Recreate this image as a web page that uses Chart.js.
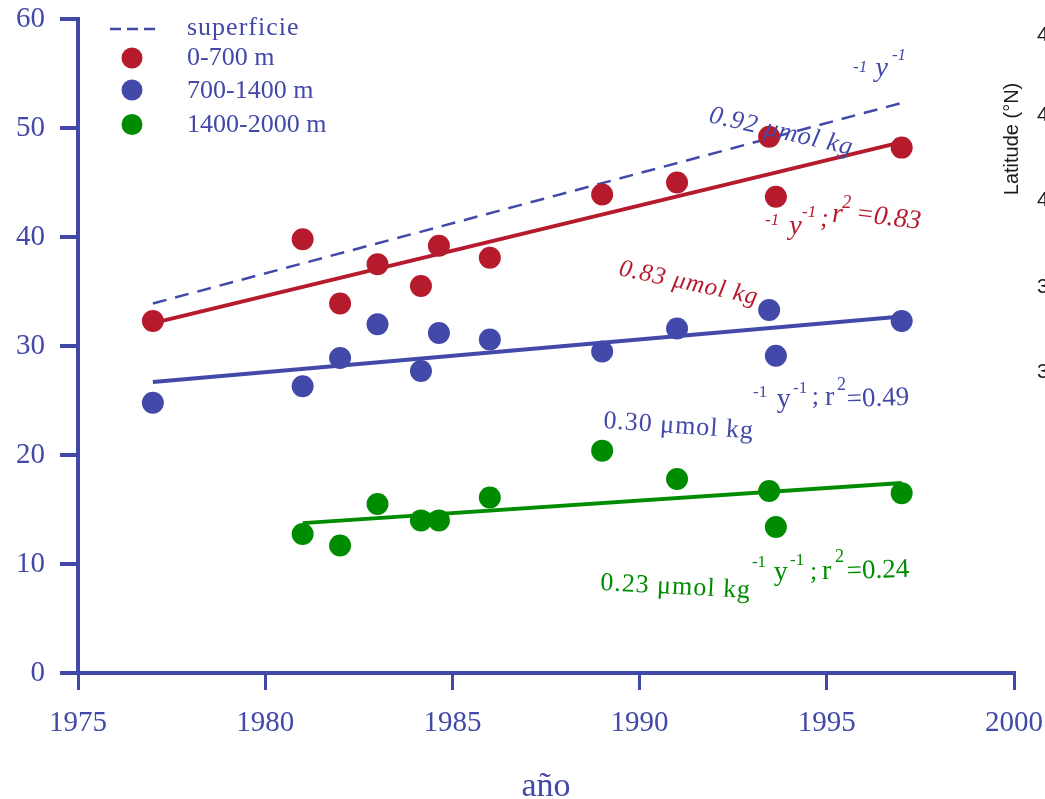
<!DOCTYPE html>
<html>
<head>
<meta charset="utf-8">
<script src="https://cdn.jsdelivr.net/npm/chart.js@4/dist/chart.umd.min.js"></script>
<style>
  html, body { margin: 0; padding: 0; background: #ffffff; }
  #wrap { width: 1045px; height: 799px; position: relative; }
</style>
</head>
<body>
<div id="wrap"><canvas id="chart" width="1045" height="799"></canvas></div>
<script>
// ---- axis ticks ----
const xTicks = [1975, 1980, 1985, 1990, 1995, 2000];
const yTicks = [0, 10, 20, 30, 40, 50, 60];

// ---- series labels ----
const surfaceLabel = 'superficie';
const layerLabels = ['0-700 m', '700-1400 m', '1400-2000 m'];

// ---- observations per depth layer ----
const years0to700 = [1977, 1981, 1982, 1983, 1984.16, 1984.64, 1986, 1989, 1991, 1993.46, 1993.64, 1997];
const values0to700 = [32.3, 39.8, 33.9, 37.5, 35.5, 39.2, 38.1, 43.9, 45.0, 49.2, 43.7, 48.2];

const years700to1400 = [1977, 1981, 1982, 1983, 1984.16, 1984.64, 1986, 1989, 1991, 1993.46, 1993.64, 1997];
const values700to1400 = [24.8, 26.3, 28.9, 32.0, 27.7, 31.2, 30.6, 29.5, 31.6, 33.3, 29.1, 32.3];

const years1400to2000 = [1981, 1982, 1983, 1984.16, 1984.64, 1986, 1989, 1991, 1993.46, 1993.64, 1997];
const values1400to2000 = [12.75, 11.7, 15.5, 14.0, 14.0, 16.1, 20.4, 17.8, 16.7, 13.4, 16.5];

// ---- linear trends: surface, 0-700, 700-1400, 1400-2000 ----
const trendSlopes = [0.92, 0.83, 0.30, 0.23];       // µmol kg-1 y-1
const trendRSquared = [null, 0.83, 0.49, 0.24];
const trendStartYears = [1977, 1977, 1977, 1981];
const trendEndYears = [1997, 1997, 1997, 1997];
const trendStartValues = [33.9, 32.1, 26.7, 13.75];

// ---- palette ----
const AXIS = '#4248a8';
const BLUE = '#4349a9';
const RED = '#b51b2d';
const GREEN = '#008c00';
const SERIF = '"Liberation Serif", "Times New Roman", serif';

const pts = (xs, ys) => xs.map((x, i) => ({ x, y: ys[i] }));
const trend = i => [
  { x: trendStartYears[i], y: trendStartValues[i] },
  { x: trendEndYears[i], y: trendStartValues[i] + trendSlopes[i] * (trendEndYears[i] - trendStartYears[i]) }
];

const scatterStyle = color => ({
  type: 'scatter',
  backgroundColor: color,
  borderColor: color,
  borderWidth: 0,
  pointRadius: 11,
  pointHoverRadius: 11,
  order: 0
});
const lineStyle = (color, width, dash) => ({
  type: 'line',
  borderColor: color,
  backgroundColor: color,
  borderWidth: width,
  borderDash: dash || [],
  pointRadius: 0,
  pointHoverRadius: 0,
  fill: false,
  tension: 0,
  order: 1
});

const slopeText = i => trendSlopes[i].toFixed(2) + ' \u03bcmol kg';
const r2Text = i => '=' + trendRSquared[i].toFixed(2);

// Unit pieces of each regression note, placed in data space
function unitPieces(color, italic, p) {
  return [
    { text: '-1', x: p[0][0], y: p[0][1], size: 17, color, italic },
    { text: 'y', x: p[1][0], y: p[1][1], size: 28, color, italic },
    { text: '-1', x: p[2][0], y: p[2][1], size: 17, color, italic }
  ];
}
function fitPieces(color, italic, p, r2, rot) {
  return [
    { text: ';', x: p[0][0], y: p[0][1], size: 26, color, italic },
    { text: 'r', x: p[1][0], y: p[1][1], size: 28, color, italic },
    { text: '2', x: p[2][0], y: p[2][1], size: 18, color, italic },
    { text: r2, x: p[3][0], y: p[3][1], size: 27, color, italic, rot }
  ];
}

const notes = [
  // surface trend
  { text: slopeText(0), x: 1991.83, y: 50.55, size: 26, color: BLUE, italic: true, rot: 13, ls: 1 },
  ...unitPieces(BLUE, true, [[1995.70, 55.14], [1996.30, 54.77], [1996.74, 56.24]]),
  // 0-700 m
  { text: slopeText(1), x: 1989.42, y: 36.51, size: 25, color: RED, italic: true, rot: 12, ls: 1 },
  ...unitPieces(RED, true, [[1993.35, 41.10], [1994.00, 40.28], [1994.34, 41.83]]),
  ...fitPieces(RED, true, [[1994.82, 41.01], [1995.14, 41.38], [1995.41, 42.66], [1995.75, 41.47]], r2Text(1), 7),
  // 700-1400 m
  { text: slopeText(2), x: 1989.02, y: 22.48, size: 26, color: BLUE, italic: false, rot: 4, ls: 1 },
  ...unitPieces(BLUE, false, [[1993.03, 25.32], [1993.66, 24.40], [1994.10, 25.69]]),
  ...fitPieces(BLUE, false, [[1994.60, 24.68], [1994.95, 24.59], [1995.27, 25.96], [1995.54, 24.40]], r2Text(2), -2),
  // 1400-2000 m
  { text: slopeText(3), x: 1988.94, y: 7.61, size: 26, color: GREEN, italic: false, rot: 3, ls: 1 },
  ...unitPieces(GREEN, false, [[1993.00, 9.72], [1993.58, 8.53], [1994.02, 9.91]]),
  ...fitPieces(GREEN, false, [[1994.55, 8.62], [1994.87, 8.62], [1995.22, 10.18], [1995.54, 8.62]], r2Text(3), -2)
];

// Regression notes drawn over the data
const trendNotes = {
  id: 'trendNotes',
  afterDatasetsDraw(chart, args, opts) {
    const { ctx } = chart;
    const sx = chart.scales.x, sy = chart.scales.y;
    opts.items.forEach(it => {
      ctx.save();
      ctx.translate(sx.getPixelForValue(it.x), sy.getPixelForValue(it.y));
      ctx.rotate((it.rot || 0) * Math.PI / 180);
      ctx.font = (it.italic ? 'italic ' : '') + it.size + 'px ' + SERIF;
      if ('letterSpacing' in ctx) ctx.letterSpacing = (it.ls || 0) + 'px';
      ctx.fillStyle = it.color;
      ctx.textAlign = 'left';
      ctx.textBaseline = 'alphabetic';
      ctx.fillText(it.text, 0, 0);
      ctx.restore();
    });
  }
};

// Key in the upper-left corner of the plot
const depthKey = {
  id: 'depthKey',
  afterDraw(chart) {
    const { ctx } = chart;
    const ds = chart.data.datasets;
    const left = chart.chartArea.left;
    ctx.save();
    ctx.font = '26px ' + SERIF;
    ctx.textAlign = 'left';
    ctx.textBaseline = 'middle';
    // dashed surface line
    ctx.strokeStyle = ds[0].borderColor;
    ctx.lineWidth = 2.5;
    ctx.setLineDash([11, 6]);
    ctx.beginPath();
    ctx.moveTo(left + 32, 29);
    ctx.lineTo(left + 78, 29);
    ctx.stroke();
    ctx.setLineDash([]);
    ctx.fillStyle = AXIS;
    if ('letterSpacing' in ctx) ctx.letterSpacing = '1px';
    ctx.fillText(ds[0].label, left + 109, 28);
    if ('letterSpacing' in ctx) ctx.letterSpacing = '0px';
    const rows = [[58, 58.5], [90, 91.5], [124.5, 125]];
    [4, 5, 6].forEach((k, i) => {
      ctx.fillStyle = ds[k].backgroundColor;
      ctx.beginPath();
      ctx.arc(left + 54, rows[i][0], 10.5, 0, Math.PI * 2);
      ctx.fill();
      ctx.fillStyle = AXIS;
      ctx.fillText(ds[k].label, left + 109, rows[i][1]);
    });
    ctx.restore();
  }
};

// Neighbouring latitude axis at the right edge
const latitudeEdge = {
  id: 'latitudeEdge',
  afterDraw(chart) {
    const { ctx } = chart;
    const w = chart.width;
    ctx.save();
    ctx.fillStyle = '#1a1a1a';
    ctx.font = '20px "Liberation Sans", Arial, sans-serif';
    ctx.textAlign = 'center';
    ctx.textBaseline = 'middle';
    ctx.translate(w - 33, 139);
    ctx.rotate(-Math.PI / 2);
    ctx.fillText('Latitude (\u00b0N)', 0, 0);
    ctx.restore();
    ctx.save();
    ctx.fillStyle = '#1a1a1a';
    ctx.font = '21px "Liberation Sans", Arial, sans-serif';
    ctx.textAlign = 'left';
    ctx.textBaseline = 'middle';
    [['4', 35], ['4', 115], ['4', 200], ['3', 287], ['3', 372]].forEach(([t, yy]) => {
      ctx.fillText(t, w - 8, yy);
    });
    ctx.restore();
  }
};

new Chart(document.getElementById('chart'), {
  data: {
    datasets: [
      { label: surfaceLabel, data: trend(0), ...lineStyle(BLUE, 2.5, [14, 9]) },
      { label: layerLabels[0] + ' trend', data: trend(1), ...lineStyle(RED, 4) },
      { label: layerLabels[1] + ' trend', data: trend(2), ...lineStyle(BLUE, 4) },
      { label: layerLabels[2] + ' trend', data: trend(3), ...lineStyle(GREEN, 4) },
      { label: layerLabels[0], data: pts(years0to700, values0to700), ...scatterStyle(RED) },
      { label: layerLabels[1], data: pts(years700to1400, values700to1400), ...scatterStyle(BLUE) },
      { label: layerLabels[2], data: pts(years1400to2000, values1400to2000), ...scatterStyle(GREEN) }
    ]
  },
  options: {
    responsive: false,
    devicePixelRatio: 1,
    animation: false,
    layout: { padding: { top: 19, right: 31, left: 0, bottom: 0 } },
    plugins: {
      legend: { display: false },
      tooltip: { enabled: false },
      trendNotes: { items: notes }
    },
    scales: {
      x: {
        type: 'linear',
        min: 1975,
        max: 2000,
        afterBuildTicks: s => { s.ticks = xTicks.map(v => ({ value: v })); },
        afterFit: s => { s.height = 126; s.paddingLeft = 0; s.paddingRight = 0; },
        ticks: {
          callback: v => String(v),
          color: AXIS,
          font: { family: SERIF, size: 29 },
          padding: 16,
          maxRotation: 0,
          autoSkip: false
        },
        grid: { drawOnChartArea: false, drawTicks: true, tickLength: 17, color: AXIS, lineWidth: 3 },
        border: { display: true, color: AXIS, width: 4 },
        title: {
          display: true,
          text: 'año',
          color: AXIS,
          font: { family: SERIF, size: 34, lineHeight: 0.7 },
          padding: 0
        }
      },
      y: {
        type: 'linear',
        min: 0,
        max: 60,
        afterBuildTicks: s => { s.ticks = yTicks.map(v => ({ value: v })); },
        afterFit: s => { s.width = 78; s.paddingTop = 0; s.paddingBottom = 0; },
        ticks: {
          color: AXIS,
          font: { family: SERIF, size: 29 },
          padding: 15,
          autoSkip: false
        },
        grid: { drawOnChartArea: false, drawTicks: true, tickLength: 18, color: AXIS, lineWidth: 4 },
        border: { display: true, color: AXIS, width: 4 }
      }
    }
  },
  plugins: [trendNotes, depthKey, latitudeEdge]
});
</script>
</body>
</html>
